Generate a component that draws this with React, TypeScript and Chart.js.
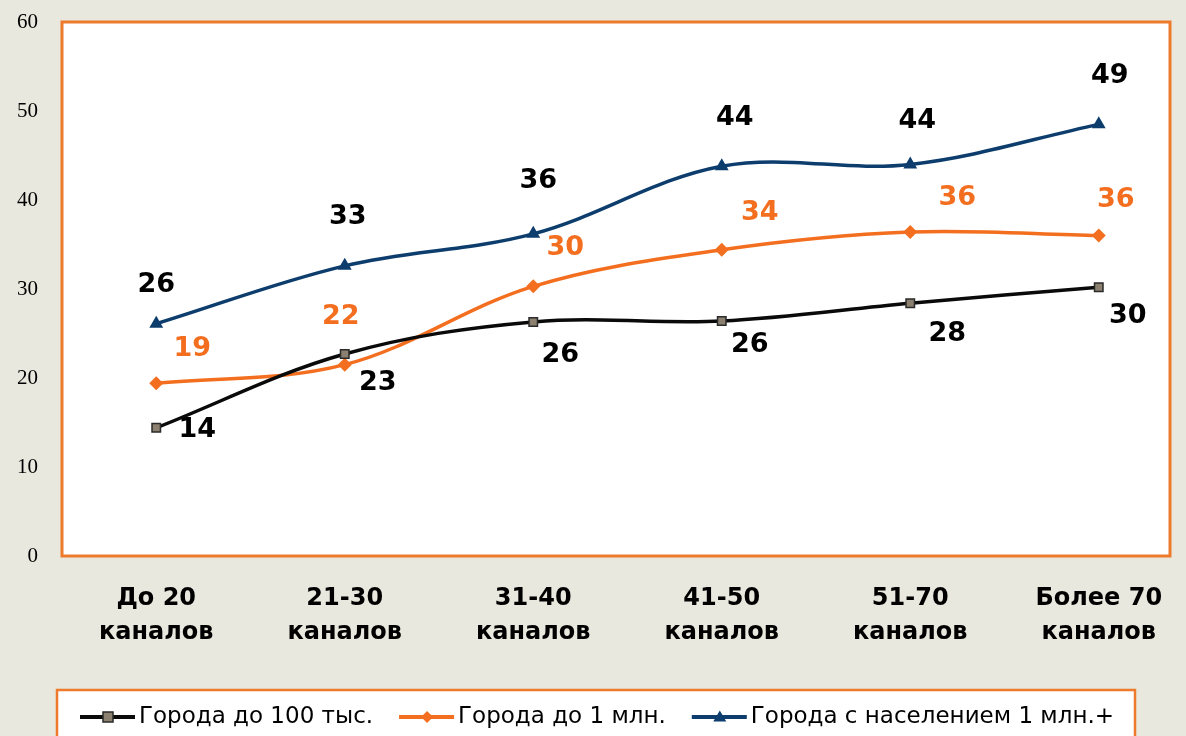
import React, { useEffect, useRef } from "react";
import { Chart, registerables } from "chart.js";

Chart.register(...registerables);

const categories: string[][] = [
  ["До 20", "каналов"],
  ["21-30", "каналов"],
  ["31-40", "каналов"],
  ["41-50", "каналов"],
  ["51-70", "каналов"],
  ["Более 70", "каналов"],
];
const seriesNames = [
  "Города до 100 тыс.",
  "Города до 1 млн.",
  "Города с населением 1 млн.+",
];
const smallCities = [14.4, 22.7, 26.3, 26.4, 28.4, 30.2];
const midCities = [19.4, 21.5, 30.3, 34.4, 36.4, 36.0];
const bigCities = [26.1, 32.6, 36.2, 43.8, 44.0, 48.5];
const yTickValues = [0, 10, 20, 30, 40, 50, 60];

// label placement relative to each point (layout only)
const labelOffsets: number[][][] = [
  [[41, 2], [33, 29], [27, 33], [28, 24], [37, 31], [29, 29]],
  [[36, -34], [-4, -48], [32, -38], [38, -37], [47, -34], [17, -36]],
  [[0, -39], [3, -49], [5, -53], [13, -48], [7, -43], [11, -48]],
];

const BG = "#E9E8DE";
const ORANGE_BORDER = "#EE7A2C";
const BLACK = "#0a0a0a";
const ORANGE = "#F36F1F";
const NAVY = "#0D3D6D";
const SQUARE_FILL = "#8C8070";

const colors = [BLACK, ORANGE, NAVY];
const labelColors = ["#000000", ORANGE, "#000000"];

const CANVAS_W = 1193;
const CANVAS_H = 736;

function drawMarker(ctx: CanvasRenderingContext2D, i: number, x: number, y: number, s: number) {
  ctx.save();
  ctx.beginPath();
  if (i === 0) {
    ctx.rect(x - s, y - s, 2 * s, 2 * s);
    ctx.fillStyle = SQUARE_FILL;
    ctx.fill();
    ctx.lineWidth = 1.5;
    ctx.strokeStyle = "#2a2a2a";
    ctx.stroke();
  } else if (i === 1) {
    ctx.moveTo(x, y - s * 1.2);
    ctx.lineTo(x + s * 1.2, y);
    ctx.lineTo(x, y + s * 1.2);
    ctx.lineTo(x - s * 1.2, y);
    ctx.closePath();
    ctx.fillStyle = ORANGE;
    ctx.fill();
  } else {
    ctx.moveTo(x, y - s * 1.3);
    ctx.lineTo(x + s * 1.3, y + s * 0.9);
    ctx.lineTo(x - s * 1.3, y + s * 0.9);
    ctx.closePath();
    ctx.fillStyle = NAVY;
    ctx.fill();
  }
  ctx.restore();
}

const framePlugin = {
  id: "frame",
  beforeDraw(chart: any) {
    const { ctx, chartArea } = chart;
    ctx.save();
    ctx.fillStyle = BG;
    ctx.fillRect(0, 0, chart.width, chart.height);
    const left = chartArea.left;
    const right = chartArea.left + 1108;
    ctx.fillStyle = "#ffffff";
    ctx.fillRect(left, chartArea.top, right - left, chartArea.bottom - chartArea.top);
    ctx.lineWidth = 3;
    ctx.strokeStyle = ORANGE_BORDER;
    ctx.strokeRect(left, chartArea.top, right - left, chartArea.bottom - chartArea.top);
    ctx.restore();
  },
};

const labelsPlugin = {
  id: "valueLabels",
  afterDatasetsDraw(chart: any) {
    const { ctx } = chart;
    ctx.save();
    ctx.font = "bold 27px 'DejaVu Sans'";
    ctx.textAlign = "center";
    ctx.textBaseline = "middle";
    chart.data.datasets.forEach((ds: any, di: number) => {
      const meta = chart.getDatasetMeta(di);
      meta.data.forEach((pt: any, pi: number) => {
        const off = labelOffsets[di][pi];
        ctx.fillStyle = labelColors[di];
        ctx.fillText(String(Math.round(ds.data[pi])), pt.x + off[0], pt.y + off[1]);
      });
    });
    ctx.restore();
  },
};

const legendPlugin = {
  id: "boxLegend",
  afterDraw(chart: any) {
    const { ctx } = chart;
    ctx.save();
    const boxLeft = 57;
    const boxTop = 690;
    const boxWidth = 1078;
    ctx.fillStyle = "#ffffff";
    ctx.fillRect(boxLeft, boxTop, boxWidth, 80);
    ctx.lineWidth = 2.5;
    ctx.strokeStyle = ORANGE_BORDER;
    ctx.strokeRect(boxLeft, boxTop, boxWidth, 80);
    ctx.font = "23px 'DejaVu Sans'";
    ctx.textBaseline = "middle";
    ctx.textAlign = "left";
    const cy = 717;
    let x = 80;
    seriesNames.forEach((name, i) => {
      ctx.beginPath();
      ctx.moveTo(x, cy);
      ctx.lineTo(x + 55, cy);
      ctx.lineWidth = 4;
      ctx.strokeStyle = colors[i];
      ctx.stroke();
      drawMarker(ctx, i, x + 28, cy, 5);
      ctx.fillStyle = "#000000";
      ctx.fillText(name, x + 59, cy);
      x += 59 + ctx.measureText(name).width + 26;
    });
    ctx.restore();
  },
};

export default function App() {
  const ref = useRef<HTMLCanvasElement | null>(null);
  useEffect(() => {
    document.body.style.margin = "0";
    document.body.style.overflow = "hidden";
    document.documentElement.style.overflow = "hidden";
    document.body.style.background = BG;
    if (!ref.current) return;
    const mk = (i: number, data: number[], style: string, r: number, bw: number, bg: string, bc: string) => ({
      label: seriesNames[i],
      data,
      borderColor: colors[i],
      borderWidth: 3.5,
      tension: 0.35,
      pointStyle: style,
      pointRadius: r,
      pointBackgroundColor: bg,
      pointBorderColor: bc,
      pointBorderWidth: bw,
      fill: false,
    });
    const chart = new Chart(ref.current, {
      type: "line",
      data: {
        labels: categories,
        datasets: [
          mk(0, smallCities, "rect", 6, 1.5, SQUARE_FILL, "#2a2a2a"),
          mk(1, midCities, "rectRot", 7, 0, ORANGE, ORANGE),
          mk(2, bigCities, "triangle", 8, 0, NAVY, NAVY),
        ],
      },
      options: {
        responsive: false,
        animation: false,
        layout: { autoPadding: false, padding: { top: 22, right: 0, bottom: 0, left: 0 } },
        plugins: {
          legend: { display: false },
          tooltip: { enabled: false },
        },
        scales: {
          x: {
            offset: true,
            grid: { display: false },
            border: { display: false },
            ticks: {
              color: "#000000",
              padding: 17,
              maxRotation: 0,
              autoSkip: false,
              font: { family: "'DejaVu Sans'", size: 24, weight: "bold", lineHeight: 1.45 },
            },
            afterFit(scale: any) {
              scale.height = 180;
              scale.paddingLeft = 0;
              scale.paddingRight = 0;
            },
          },
          y: {
            min: 0,
            max: 60,
            grid: { display: false, drawTicks: false },
            border: { display: false },
            afterBuildTicks(scale: any) {
              scale.ticks = yTickValues.map((v) => ({ value: v }));
            },
            ticks: {
              color: "#000000",
              padding: 24,
              font: { family: "'Liberation Serif'", size: 21 },
            },
            afterFit(scale: any) {
              scale.width = 62;
              scale.paddingTop = 0;
              scale.paddingBottom = 0;
            },
          },
        },
      },
      plugins: [framePlugin, labelsPlugin, legendPlugin],
    } as any);
    return () => chart.destroy();
  }, []);
  return (
    <div style={{ width: 1186, height: 736, overflow: "hidden", background: BG }}>
      <canvas ref={ref} width={CANVAS_W} height={CANVAS_H} style={{ display: "block" }} />
    </div>
  );
}
